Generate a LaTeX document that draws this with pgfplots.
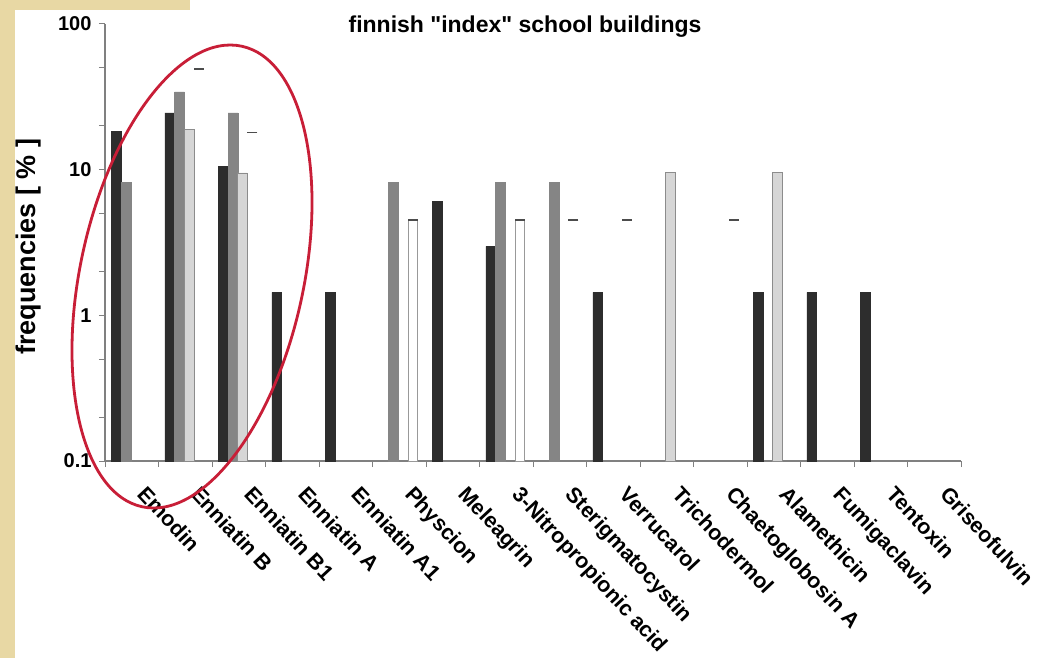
\documentclass[border=0pt]{standalone}
\usepackage{pgfplots}
\pgfplotsset{compat=1.18}
\usepackage{fontspec}
\setmainfont{Liberation Sans}[Ligatures=TeXOff]
\definecolor{tanframe}{RGB}{232,216,164}
\definecolor{darkbar}{RGB}{45,45,45}
\definecolor{midbar}{RGB}{133,133,133}
\definecolor{lightbar}{RGB}{214,214,214}
\definecolor{axisgray}{RGB}{128,128,128}
\definecolor{ringred}{RGB}{200,30,55}
\begin{document}
\begin{tikzpicture}[x=1pt,y=1pt]
\useasboundingbox (0,0) rectangle (1043,-658);
\fill[white] (0,0) rectangle (1043,-658);
\fill[tanframe] (0,0) rectangle (190,-10);
\fill[tanframe] (0,0) rectangle (15,-658);
\begin{axis}[
  at={(105pt,-461pt)}, anchor=south west,
  width=856pt, height=437pt, scale only axis,
  ymode=log, ymin=0.1, ymax=100, log origin=infty,
  xmin=-0.5, xmax=15.5,
  axis x line*=bottom, axis y line*=left,
  axis line style={draw=axisgray, line width=1.3pt},
  tick align=outside,
  major tick length=6pt, minor tick length=6pt,
  tick style={axisgray, line width=1pt},
  ytick={0.1,1,10,100}, yticklabels={0.1,1,10,100},
  minor ytick={0.2,0.5,2,5,20,50},
  xtick={0,...,15},
  xticklabels={Emodin,Enniatin B,Enniatin B1,Enniatin A,Enniatin A1,Physcion,Meleagrin,3-Nitropropionic acid,Sterigmatocystin,Verrucarol,Trichodermol,Chaetoglobosin A,Alamethicin,Fumigaclavin,Tentoxin,Griseofulvin},
  major x tick style={draw=none},
  minor xtick={-0.5,0.5,...,15.5},
  yticklabel style={font=\bfseries\fontsize{20}{24}\selectfont, xshift=-4pt},
  xticklabel style={font=\bfseries\fontsize{21.5}{26}\selectfont, rotate=-47, anchor=north west, inner sep=0pt, xshift=24pt, yshift=0pt},
  title={finnish "index" school buildings},
  title style={font=\bfseries\fontsize{23}{27}\selectfont, at={(axis description cs:0.5,1)}, anchor=base, yshift=-15pt, xshift=-8pt},
  ylabel={frequencies [ \% ]},
  every axis y label/.style={at={(axis description cs:-0.0888,0.49)}, rotate=90, anchor=center, font=\bfseries\fontsize{27}{32}\selectfont},
  clip=false,
]
% series 1: dark
\addplot[ybar, bar width=0.181, bar shift=-0.29, fill=darkbar, draw=darkbar] coordinates {
 (0,18.3) (1,24.5) (2,10.5) (3,1.44) (4,1.44) (6,6.05) (7,2.97) (9,1.44) (12,1.44) (13,1.44) (14,1.44)};
% series 2: mid gray
\addplot[ybar, bar width=0.181, bar shift=-0.108, fill=midbar, draw=midbar] coordinates {
 (0,8.2) (1,34.2) (2,24.5) (5,8.2) (7,8.2) (8,8.2)};
% series 3: light gray
\addplot[ybar, bar width=0.181, bar shift=0.073, fill=lightbar, draw=gray!90, line width=0.8pt] coordinates {
 (1,19) (2,9.5) (10,9.6) (12,9.6)};
% series 4: white
\addplot[ybar, bar width=0.181, bar shift=0.254, fill=white, draw=gray!80, line width=1pt] coordinates {
 (5,4.5) (7,4.5)};
\addplot[only marks, mark=-, mark size=5pt, mark options={line width=1.8pt, draw=black!70}] coordinates {
 (1.254,49) (2.254,18) (5.254,4.5) (7.254,4.5) (8.254,4.5) (9.254,4.5) (11.254,4.5)};
\end{axis}
\draw[ringred, line width=2.8pt, rotate around={-12.2:(192,-276.5)}] (192,-276.5) ellipse [x radius=111.7, y radius=235.6];
\end{tikzpicture}
\end{document}
